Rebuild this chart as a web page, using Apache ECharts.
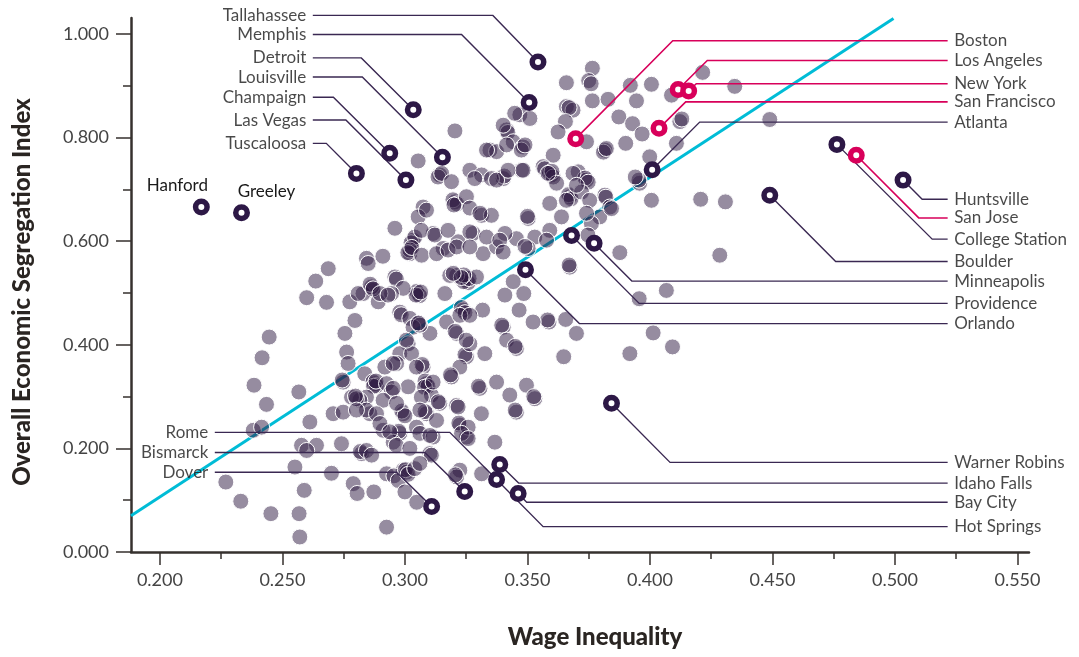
<!DOCTYPE html>
<html>
<head>
<meta charset="utf-8">
<script src="https://cdn.jsdelivr.net/npm/echarts@6/dist/echarts.min.js"></script>
<style>
html, body { margin: 0; padding: 0; background: #fff; }
#chart { width: 1079px; height: 657px; }
</style>
</head>
<body>
<div id="chart"></div>
<script>
// metro areas, wage inequality vs overall economic segregation
var wageInequality = [
  0.3765,0.3750,0.3760,0.3659,0.3920,0.4006,0.4215,0.4346,0.4088,0.3765,0.3829,0.3945,0.3873,0.3929,0.3968,0.4122,0.4130,
  0.3659,0.3686,0.3670,0.3655,0.3625,0.3741,0.3901,0.3816,0.3810,0.3822,0.4108,0.3999,0.3958,0.3955,0.3940,0.4006,0.4207,
  0.4308,0.3469,0.3510,0.3415,0.3420,0.3442,0.3482,0.3475,0.3490,0.3476,0.3401,0.3405,0.3605,0.3564,0.3570,0.3598,0.3590,
  0.3605,0.3600,0.3619,0.3707,0.3741,0.3735,0.3748,0.3673,0.3668,0.3678,0.3721,0.3591,0.3816,0.3820,0.3836,0.3795,0.3761,
  0.3503,0.3500,0.3639,0.3591,0.3530,0.3455,0.3408,0.3503,0.3747,0.3877,0.4285,0.3204,0.3347,0.3054,0.3142,0.3135,0.3150,
  0.3265,0.3313,0.3353,0.3374,0.3204,0.3196,0.3212,0.3200,0.3251,0.3265,0.3313,0.3353,0.3074,0.3054,0.2959,0.3033,0.3025,
  0.3040,0.3115,0.3156,0.3217,0.3278,0.3319,0.3374,0.3020,0.2843,0.2910,0.3401,0.3448,0.3374,0.3415,0.3333,0.3190,0.3285,
  0.3421,0.3482,0.3584,0.3686,0.3700,0.3659,0.3754,0.3741,0.3843,0.3088,0.3306,0.3067,0.3122,0.3176,0.3265,0.3333,0.3387,
  0.4489,0.2850,0.2687,0.2959,0.2965,0.3020,0.3012,0.3028,0.3068,0.3129,0.3176,0.3211,0.3265,0.3401,0.3490,0.3578,0.3673,
  0.3670,0.4067,0.3956,0.4013,0.4092,0.3918,0.3648,0.3700,0.3656,0.3588,0.3582,0.3523,0.3466,0.3485,0.3408,0.3442,0.3317,
  0.3238,0.3230,0.3245,0.3251,0.3245,0.3258,0.3240,0.3262,0.3211,0.3292,0.3183,0.3163,0.3054,0.3048,0.3060,0.3045,0.3064,
  0.2993,0.2945,0.2870,0.2829,0.2891,0.2979,0.2985,0.3020,0.3054,0.3170,0.3102,0.3211,0.3205,0.3224,0.3265,0.3401,0.3395,
  0.3415,0.3455,0.3450,0.3326,0.3251,0.3245,0.3224,0.3265,0.3013,0.2979,0.3027,0.3074,0.3070,0.2966,0.2918,0.2836,0.2877,
  0.2870,0.2884,0.2872,0.2882,0.2925,0.2945,0.3013,0.3088,0.3082,0.3094,0.3080,0.3108,0.3067,0.3142,0.3190,0.3186,0.3211,
  0.3306,0.3300,0.3374,0.3428,0.3496,0.3530,0.3526,0.3455,0.3450,0.3312,0.3224,0.3220,0.3251,0.3367,0.2993,0.2987,0.3000,
  0.3088,0.3082,0.3129,0.3047,0.2979,0.2975,0.2911,0.2857,0.2843,0.2816,0.2823,0.2818,0.2952,0.3102,0.2993,0.2925,0.3224,
  0.3313,0.2636,0.2599,0.2680,0.2775,0.2809,0.2864,0.2858,0.2870,0.2898,0.2931,0.3240,0.3230,0.3197,0.2796,0.2755,0.3033,
  0.3061,0.3055,0.3250,0.3006,0.2952,0.3047,0.2446,0.2417,0.2384,0.2435,0.2567,0.2612,0.2762,0.2768,0.2748,0.2744,0.2782,
  0.2707,0.2748,0.2802,0.2798,0.2911,0.2843,0.2884,0.2952,0.2966,0.3061,0.3115,0.3136,0.3217,0.3258,0.3231,0.2898,0.2938,
  0.3061,0.3115,0.2381,0.2415,0.2578,0.2639,0.2741,0.2843,0.2599,0.2864,0.2551,0.2700,0.2269,0.2330,0.2453,0.2568,0.2571,
  0.2589,0.2789,0.2805,0.2873,0.2925,0.2965,0.3020,0.3102,0.3108,0.2955,0.2973,0.3007,0.3002,0.3013,0.3040,0.3061,0.3000,
  0.3048,0.3211,0.3206,0.3258,0.2802
];
var segregationIndex = [
  0.934,0.910,0.904,0.906,0.901,0.903,0.926,0.899,0.882,0.871,0.874,0.871,0.840,0.827,0.807,0.831,0.836,
  0.860,0.853,0.858,0.831,0.811,0.792,0.789,0.776,0.772,0.779,0.789,0.763,0.712,0.718,0.724,0.679,0.681,
  0.676,0.844,0.837,0.815,0.810,0.792,0.782,0.776,0.786,0.737,0.721,0.726,0.766,0.744,0.740,0.728,0.732,
  0.724,0.735,0.712,0.734,0.718,0.722,0.714,0.686,0.690,0.682,0.695,0.673,0.689,0.685,0.666,0.647,0.634,
  0.644,0.648,0.647,0.621,0.608,0.605,0.615,0.586,0.612,0.578,0.573,0.813,0.776,0.755,0.728,0.724,0.731,
  0.737,0.728,0.721,0.718,0.676,0.680,0.672,0.670,0.686,0.664,0.650,0.650,0.666,0.647,0.625,0.602,0.597,
  0.608,0.615,0.586,0.599,0.615,0.576,0.589,0.576,0.567,0.571,0.824,0.847,0.773,0.786,0.776,0.715,0.721,
  0.737,0.737,0.731,0.731,0.708,0.679,0.679,0.654,0.663,0.660,0.654,0.621,0.612,0.621,0.618,0.608,0.602,
  0.835,0.557,0.547,0.531,0.527,0.583,0.578,0.588,0.573,0.576,0.583,0.589,0.589,0.579,0.590,0.602,0.550,
  0.554,0.505,0.489,0.423,0.396,0.383,0.377,0.422,0.449,0.444,0.448,0.444,0.467,0.499,0.496,0.522,0.467,
  0.467,0.472,0.462,0.525,0.530,0.520,0.522,0.528,0.534,0.531,0.534,0.499,0.499,0.503,0.495,0.496,0.502,
  0.509,0.499,0.505,0.499,0.483,0.463,0.458,0.451,0.441,0.444,0.422,0.422,0.426,0.457,0.457,0.434,0.438,
  0.409,0.393,0.397,0.383,0.377,0.381,0.357,0.402,0.402,0.383,0.383,0.357,0.362,0.364,0.357,0.344,0.325,
  0.329,0.321,0.320,0.330,0.325,0.309,0.319,0.325,0.330,0.320,0.318,0.303,0.299,0.287,0.338,0.342,0.283,
  0.316,0.320,0.328,0.303,0.322,0.296,0.300,0.270,0.274,0.267,0.245,0.249,0.222,0.212,0.267,0.272,0.263,
  0.267,0.271,0.254,0.241,0.229,0.233,0.235,0.267,0.299,0.293,0.190,0.194,0.212,0.190,0.158,0.151,0.158,
  0.151,0.523,0.491,0.482,0.483,0.499,0.512,0.517,0.508,0.499,0.496,0.535,0.530,0.538,0.447,0.422,0.434,
  0.438,0.442,0.409,0.409,0.364,0.357,0.415,0.375,0.322,0.285,0.309,0.251,0.386,0.364,0.328,0.332,0.299,
  0.267,0.270,0.296,0.301,0.293,0.274,0.267,0.316,0.287,0.274,0.328,0.290,0.280,0.241,0.229,0.248,0.232,
  0.229,0.222,0.235,0.241,0.206,0.206,0.209,0.196,0.196,0.187,0.164,0.152,0.135,0.098,0.074,0.074,0.029,
  0.119,0.132,0.113,0.116,0.048,0.206,0.200,0.225,0.187,0.147,0.138,0.154,0.159,0.150,0.161,0.171,0.116,
  0.096,0.145,0.149,0.219,0.274
];

// named metros with leader lines
var cityNames = ['Tallahassee','Memphis','Detroit','Louisville','Champaign','Las Vegas','Tuscaloosa',
  'Boston','Los Angeles','New York','San Francisco','Atlanta','Huntsville','San Jose','College Station',
  'Boulder','Minneapolis','Providence','Orlando','Warner Robins','Idaho Falls','Bay City','Hot Springs',
  'Rome','Bismarck','Dover'];
var cityWage = [0.3543,0.3507,0.3034,0.3153,0.2938,0.3004,0.2802,
  0.3697,0.4115,0.4158,0.4037,0.4009,0.5033,0.4842,0.4763,
  0.4489,0.3772,0.3680,0.3492,0.3843,0.3387,0.3462,0.3374,
  0.3374,0.3244,0.3109];
var citySeg = [0.946,0.868,0.854,0.762,0.770,0.718,0.731,
  0.798,0.893,0.890,0.818,0.738,0.718,0.766,0.787,
  0.689,0.596,0.611,0.545,0.287,0.169,0.113,0.140,
  0.140,0.117,0.088];
var cityPink = ['Boston','Los Angeles','New York','San Francisco','San Jose'];
var citySide = ['nw','nw','nw','nw','nw','nw','nw',
  'e','e','e','e','e','e','e','e','e','e','e','e','e','e','e','e',
  'sw','sw','sw'];
// label row (segregation units) and the wage where the leader bends
var labelRow = [1.036,0.999,0.954,0.917,0.878,0.834,0.789,
  0.987,0.949,0.904,0.869,0.830,0.681,0.645,0.604,
  0.561,0.523,0.480,0.441,0.173,0.133,0.096,0.049,
  0.231,0.192,0.154];
var elbowWage = [0.3359,0.3231,0.2822,0.2826,0.2708,0.2759,0.2679,
  0.4093,0.4234,0.4189,0.4146,0.4203,0.5111,0.5097,0.5152,
  0.4758,0.3926,0.3956,0.3712,0.4082,0.3464,0.3497,0.3564,
  0.3183,0.3081,0.2966];
var labelColumn = { nw: 0.2624, e: 0.5215, sw: 0.2224 };

// two outliers labelled without a leader
var plainNames = ['Hanford','Greeley'];
var plainWage = [0.2169,0.2333];
var plainSeg = [0.666,0.655];

// trend line end points
var trendWage = [0.1882, 0.4994];
var trendSeg = [0.070, 1.030];

var xMajor = [0.200,0.250,0.300,0.350,0.400,0.450,0.500,0.550];
var xMinor = [0.225,0.275,0.325,0.375,0.425,0.475,0.525];
var yMajor = [0.0,0.2,0.4,0.6,0.8,1.0];
var yMinor = [0.1,0.3,0.5,0.7,0.9];

var DARK = '#2d1846';
var PINK = '#d8005a';
var FONT = 'Lato, "Noto Sans", sans-serif';

var chart = echarts.init(document.getElementById('chart'));

var greyData = wageInequality.map(function (w, i) { return [w, segregationIndex[i]]; });
var trendData = trendWage.map(function (w, i) { return [w, trendSeg[i]]; });

var darkLines = [], pinkLines = [], darkRings = [], pinkRings = [], eastLabels = [], westLabels = [];
cityNames.forEach(function (name, i) {
  var pink = cityPink.indexOf(name) >= 0;
  var col = labelColumn[citySide[i]];
  var line = { coords: [[col, labelRow[i]], [elbowWage[i], labelRow[i]], [cityWage[i], citySeg[i]]] };
  (pink ? pinkLines : darkLines).push(line);
  var ring = { name: name, value: [cityWage[i], citySeg[i]] };
  if (name !== 'Rome') (pink ? pinkRings : darkRings).push(ring);
  var lab = { name: name, value: [col, labelRow[i]] };
  (citySide[i] === 'e' ? eastLabels : westLabels).push(lab);
});
plainNames.forEach(function (name, i) {
  darkRings.push({
    name: name, value: [plainWage[i], plainSeg[i]],
    label: {
      show: true, position: 'top', distance: 5,
      offset: i === 0 ? [-24, 0] : [25, 1],
      formatter: '{b}', color: '#1a1a1a', fontSize: 17, fontFamily: FONT
    }
  });
});

var axisLineStyle = { color: '#36312e', width: 2.5 };
var tickStyle = { color: '#36312e', width: 1.5 };
var X_MIN = 0.1882, X_MAX = 0.5547;

var option = {
  backgroundColor: '#fff',
  animation: false,
  grid: { left: 131, right: 50, top: 18, bottom: 105, containLabel: false },
  xAxis: [
    {
      type: 'value', min: X_MIN, max: X_MAX,
      name: 'Wage Inequality', nameLocation: 'middle', nameGap: 73,
      nameTextStyle: { fontFamily: FONT, fontWeight: 900, fontSize: 24, color: '#2a2522', padding: [0, 0, 0, 30] },
      axisLine: { lineStyle: axisLineStyle },
      axisTick: { show: true, length: 13, lineStyle: tickStyle, customValues: xMajor },
      axisLabel: {
        customValues: xMajor, margin: 19, fontFamily: FONT, fontSize: 18, color: '#444',
        formatter: function (v) { return v.toFixed(3); }
      },
      splitLine: { show: false }
    },
    {
      type: 'value', min: X_MIN, max: X_MAX, position: 'bottom',
      axisLine: { show: false },
      axisTick: { show: true, length: 7, lineStyle: tickStyle, customValues: xMinor },
      axisLabel: { show: false },
      splitLine: { show: false }
    }
  ],
  yAxis: [
    {
      type: 'value', min: 0, max: 1.031,
      name: 'Overall Economic Segregation Index', nameLocation: 'middle', nameGap: 97,
      nameTextStyle: { fontFamily: FONT, fontWeight: 900, fontSize: 24, color: '#2a2522', padding: [0, 14, 0, 0] },
      axisLine: { show: true, lineStyle: axisLineStyle },
      axisTick: { show: true, length: 15, lineStyle: tickStyle, customValues: yMajor },
      axisLabel: {
        customValues: yMajor, margin: 22, fontFamily: FONT, fontSize: 18, color: '#444',
        formatter: function (v) { return v.toFixed(3); }
      },
      splitLine: { show: false }
    },
    {
      type: 'value', min: 0, max: 1.031, position: 'left',
      axisLine: { show: false },
      axisTick: { show: true, length: 8, lineStyle: tickStyle, customValues: yMinor },
      axisLabel: { show: false },
      splitLine: { show: false }
    }
  ],
  series: [
    {
      type: 'line', data: trendData, symbol: 'none', z: 1, silent: true,
      lineStyle: { color: '#00bcd6', width: 3 }
    },
    {
      type: 'scatter', data: greyData, symbolSize: 16, z: 2, silent: true,
      itemStyle: { color: 'rgba(45,25,66,0.5)', borderColor: '#fff', borderWidth: 1, opacity: 1 }
    },
    {
      type: 'lines', coordinateSystem: 'cartesian2d', polyline: true, data: darkLines,
      z: 3, silent: true, clip: false,
      lineStyle: { color: '#3a2852', width: 1.4, opacity: 1 }
    },
    {
      type: 'lines', coordinateSystem: 'cartesian2d', polyline: true, data: pinkLines,
      z: 3, silent: true, clip: false,
      lineStyle: { color: PINK, width: 1.6, opacity: 1 }
    },
    {
      type: 'scatter', data: darkRings, symbolSize: 11.5, z: 4, silent: true, clip: false,
      itemStyle: { color: '#fff', borderColor: DARK, borderWidth: 5.5, opacity: 1 }
    },
    {
      type: 'scatter', data: pinkRings, symbolSize: 11.5, z: 4, silent: true, clip: false,
      itemStyle: { color: '#fff', borderColor: PINK, borderWidth: 5.5, opacity: 1 }
    },
    {
      type: 'scatter', data: eastLabels, symbolSize: 1, z: 5, silent: true, clip: false,
      itemStyle: { color: 'rgba(0,0,0,0)' },
      label: { show: true, position: 'right', distance: 6, formatter: '{b}', color: '#1a1a1a', fontSize: 17, fontFamily: FONT }
    },
    {
      type: 'scatter', data: westLabels, symbolSize: 1, z: 5, silent: true, clip: false,
      itemStyle: { color: 'rgba(0,0,0,0)' },
      label: { show: true, position: 'left', distance: 6, formatter: '{b}', color: '#1a1a1a', fontSize: 17, fontFamily: FONT }
    }
  ]
};

chart.setOption(option);
</script>
</body>
</html>
